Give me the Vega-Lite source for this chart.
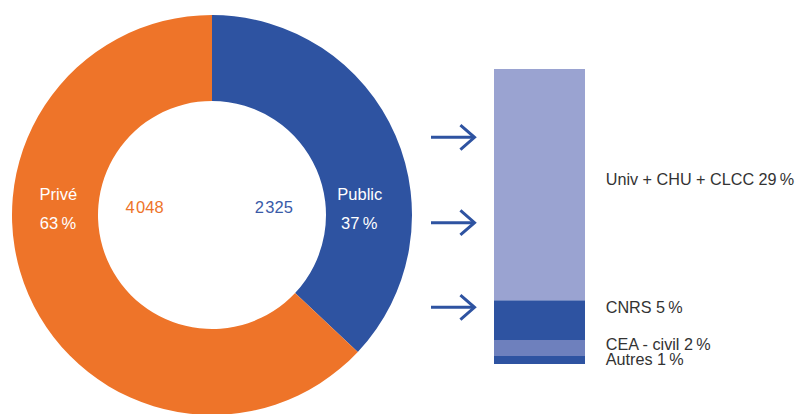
{
  "$schema": "https://vega.github.io/schema/vega-lite/v6.json",
  "padding": 0,
  "spacing": 0,
  "background": "white",
  "config": {"view": {"stroke": null}, "text": {"font": "Liberation Sans", "fontSize": 16.5}},
  "datasets": {
    "secteurs": [
      {"secteur": "Public", "part": 37, "effectif": 2325, "ordre": 1},
      {"secteur": "Privé", "part": 63, "effectif": 4048, "ordre": 2}
    ],
    "etiquettes": [
      {"texte": "Privé", "px": -0.768, "py": 0.075, "couleur": "white"},
      {"texte": "63\u2009%", "px": -0.77, "py": -0.07, "couleur": "white"},
      {"texte": "4\u200a048", "px": -0.337, "py": 0.0085, "couleur": "orange"},
      {"texte": "2\u200a325", "px": 0.309, "py": 0.0085, "couleur": "bleu"},
      {"texte": "Public", "px": 0.739, "py": 0.075, "couleur": "white"},
      {"texte": "37\u2009%", "px": 0.736, "py": -0.07, "couleur": "white"}
    ],
    "public": [
      {"organisme": "Autres", "part": 1, "ordre": 1, "texte": "Autres 1\u2009%", "ly": -0.13},
      {"organisme": "CEA - civil", "part": 2, "ordre": 2, "texte": "CEA - civil 2\u2009%", "ly": 1.76},
      {"organisme": "CNRS", "part": 5, "ordre": 3, "texte": "CNRS 5\u2009%", "ly": 6.35},
      {"organisme": "Univ + CHU + CLCC", "part": 29, "ordre": 4, "texte": "Univ + CHU + CLCC 29\u2009%", "ly": 22.45}
    ],
    "fleches": [
      {"niveau": 28.43},
      {"niveau": 17.72},
      {"niveau": 7.11}
    ]
  },
  "hconcat": [
    {
      "width": 424,
      "height": 414,
      "layer": [
        {
          "data": {"name": "secteurs"},
          "mark": {"type": "arc", "outerRadius": 200, "innerRadius": 114, "stroke": null},
          "encoding": {
            "x": {"datum": 0, "type": "quantitative", "scale": {"domain": [-1.06, 1.06]}, "axis": null},
            "y": {"datum": 0, "type": "quantitative", "scale": {"domain": [-0.995, 1.075]}, "axis": null},
            "theta": {"field": "part", "type": "quantitative", "stack": true},
            "order": {"field": "ordre", "type": "quantitative"},
            "color": {"field": "secteur", "type": "nominal", "scale": {"domain": ["Public", "Privé"], "range": ["#2E53A1", "#EE7429"]}, "legend": null}
          }
        },
        {
          "data": {"name": "etiquettes"},
          "mark": {"type": "text", "align": "center", "baseline": "alphabetic"},
          "encoding": {
            "x": {"field": "px", "type": "quantitative", "scale": {"domain": [-1.06, 1.06]}, "axis": null},
            "y": {"field": "py", "type": "quantitative", "scale": {"domain": [-0.995, 1.075]}, "axis": null},
            "text": {"field": "texte"},
            "color": {"field": "couleur", "type": "nominal", "scale": {"domain": ["white", "orange", "bleu"], "range": ["#FFFFFF", "#EE7429", "#3A5BA8"]}, "legend": null}
          }
        }
      ],
      "resolve": {"scale": {"color": "independent"}}
    },
    {
      "width": 372,
      "height": 414,
      "layer": [
        {
          "data": {"name": "public"},
          "transform": [
            {"stack": "part", "groupby": [], "sort": [{"field": "ordre", "order": "ascending"}], "as": ["bas", "haut"]}
          ],
          "mark": {"type": "rect", "stroke": null},
          "encoding": {
            "x": {"datum": 7.0, "type": "quantitative", "scale": {"domain": [0, 37.2]}, "axis": null},
            "x2": {"datum": 16.1},
            "y": {"field": "bas", "type": "quantitative", "scale": {"domain": [-6.27, 45.65], "nice": false, "zero": false}, "axis": null},
            "y2": {"field": "haut"},
            "color": {"field": "organisme", "type": "nominal", "scale": {"domain": ["Autres", "CEA - civil", "CNRS", "Univ + CHU + CLCC"], "range": ["#2E53A1", "#6E80BD", "#2E53A1", "#9AA3D1"]}, "legend": null}
          }
        },
        {
          "data": {"name": "public"},
          "mark": {"type": "text", "align": "left", "baseline": "alphabetic", "color": "#333333", "fontSize": 16.2},
          "encoding": {
            "x": {"datum": 18.17, "type": "quantitative", "scale": {"domain": [0, 37.2]}, "axis": null},
            "y": {"field": "ly", "type": "quantitative", "scale": {"domain": [-6.27, 45.65], "nice": false, "zero": false}, "axis": null},
            "text": {"field": "texte"}
          }
        },
        {
          "data": {"name": "fleches"},
          "mark": {"type": "rule", "color": "#2E53A1", "strokeWidth": 3, "strokeCap": "butt"},
          "encoding": {
            "x": {"datum": 0.7, "type": "quantitative", "scale": {"domain": [0, 37.2]}, "axis": null},
            "x2": {"datum": 5.0},
            "y": {"field": "niveau", "type": "quantitative", "scale": {"domain": [-6.27, 45.65], "nice": false, "zero": false}, "axis": null}
          }
        },
        {
          "data": {"name": "fleches"},
          "mark": {"type": "point", "shape": "M-1.15,-1L0,0L-1.15,1", "filled": false, "size": 600, "color": "#2E53A1", "strokeWidth": 3, "strokeJoin": "miter", "opacity": 1},
          "encoding": {
            "x": {"datum": 5.05, "type": "quantitative", "scale": {"domain": [0, 37.2]}, "axis": null},
            "y": {"field": "niveau", "type": "quantitative", "scale": {"domain": [-6.27, 45.65], "nice": false, "zero": false}, "axis": null}
          }
        }
      ]
    }
  ]
}
